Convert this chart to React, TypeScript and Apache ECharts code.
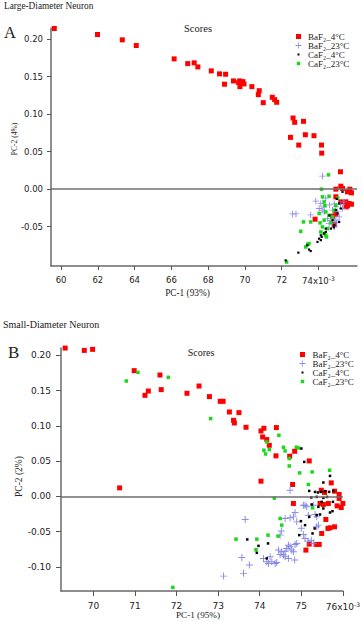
import React, { useEffect, useRef } from 'react';
import * as echarts from 'echarts';

// Values of PC-1 are in units of 10^-3 (as labelled on the axes)
const SERIES_NAMES = ['BaF₂_4°C', 'BaF₂_23°C', 'CaF₂_4°C', 'CaF₂_23°C'];
const COLORS = ['#ff0000', '#7a7ae0', '#000000', '#1ad81a'];

const A_X_TICKS = [60, 62, 64, 66, 68, 70, 72, 74];
const A_Y_TICKS = [-0.05, 0, 0.05, 0.1, 0.15, 0.2];
const B_X_TICKS = [70, 71, 72, 73, 74, 75, 76];
const B_Y_TICKS = [-0.1, -0.05, 0, 0.05, 0.1, 0.15, 0.2];

// Panel A: Large-Diameter Neuron
const A_BaF2_4 = [
  [59.63, 0.2143], [61.98, 0.2063], [63.33, 0.1992], [64.09, 0.1916], [66.15, 0.1738], [66.89, 0.1675],
  [67.24, 0.1685], [67.44, 0.1631], [68.17, 0.1578], [68.62, 0.1538], [68.95, 0.1533], [68.89, 0.14],
  [69.38, 0.1444], [69.71, 0.1444], [69.66, 0.1421], [69.8, 0.1421], [69.73, 0.1368], [69.95, 0.1404],
  [69.89, 0.1435], [70.38, 0.1368], [70.78, 0.1314], [70.73, 0.1261], [71.0, 0.1154], [71.49, 0.1226],
  [71.62, 0.1194], [71.73, 0.1159], [72.62, 0.0949], [72.71, 0.0892], [73.19, 0.0905], [72.48, 0.0691],
  [73.29, 0.0726], [73.76, 0.0713], [72.93, 0.0588], [74.17, 0.0588], [74.18, 0.0481], [75.2, 0.0232],
  [75.22, 0.004], [74.95, 0.0], [75.31, 0.001], [75.71, 0.0], [75.58, -0.0036], [75.8, -0.0049],
  [74.95, -0.0102], [75.5, -0.0169], [75.67, -0.0192], [75.8, -0.0201], [75.58, -0.0223], [75.22, -0.0169],
  [75.5, -0.0236], [74.95, -0.0334], [74.77, -0.0361], [73.82, -0.0401], [74.86, -0.047],
];
const A_BaF2_23 = [
  [74.22, 0.0174], [73.86, -0.016], [74.13, -0.019], [74.31, -0.0236], [74.6, -0.021], [74.86, -0.0196],
  [74.95, -0.0236], [72.59, -0.033], [72.78, -0.033], [73.58, -0.0343], [74.31, -0.0303], [74.68, -0.0414],
  [74.86, -0.0437], [75.13, -0.037], [75.04, -0.0303], [75.31, -0.0258], [75.4, -0.017], [74.77, -0.028],
  [74.5, -0.039], [74.04, -0.0258], [74.58, -0.046], [74.86, -0.0504], [74.4, -0.012], [75.0, -0.045],
  [74.95, -0.041], [74.2, -0.028], [75.2, -0.02],
];
const A_CaF2_4 = [
  [75.31, -0.0036], [75.13, -0.019], [75.22, -0.0258], [75.04, -0.0325], [75.13, -0.0437], [74.86, -0.048],
  [74.68, -0.0526], [74.4, -0.057], [74.31, -0.0592], [74.13, -0.0615], [74.04, -0.066], [74.13, -0.068],
  [73.95, -0.0704], [74.18, -0.0637], [73.4, -0.0749], [73.49, -0.0806], [73.58, -0.0825], [72.91, -0.0847],
  [72.22, -0.095], [74.77, -0.0414], [74.95, -0.028], [74.84, -0.051], [74.4, -0.0526], [75.0, -0.013],
  [74.6, -0.035],
];
const A_CaF2_23 = [
  [74.55, 0.0191], [74.17, 0.0], [74.58, -0.0094], [74.22, -0.0102], [74.31, -0.017], [74.04, -0.0325],
  [74.4, -0.0303], [74.86, -0.028], [74.58, -0.0348], [74.77, -0.037], [73.19, -0.0437], [74.09, -0.045],
  [74.31, -0.0414], [74.68, -0.045], [74.22, -0.0504], [74.5, -0.0526], [73.04, -0.0562], [74.13, -0.057],
  [74.31, -0.0592], [73.49, -0.0726], [73.31, -0.0771], [73.42, -0.0735], [72.27, -0.0972], [74.95, -0.0214],
  [74.4, -0.0615], [74.44, -0.0637], [73.58, -0.0437], [75.05, -0.012], [74.35, -0.022],
];

// Panel B: Small-Diameter Neuron
const B_BaF2_4 = [
  [69.32, 0.2104], [69.78, 0.2071], [69.98, 0.2086], [70.98, 0.1784], [71.6, 0.1722], [71.24, 0.1434],
  [71.32, 0.1495], [71.63, 0.1515], [72.25, 0.1463], [72.54, 0.1566], [72.79, 0.1416], [73.05, 0.1349],
  [73.12, 0.1349], [73.27, 0.1198], [73.5, 0.1189], [73.37, 0.108], [73.39, 0.1042], [73.67, 0.0981],
  [74.03, 0.0929], [74.1, 0.0967], [74.4, 0.0977], [74.07, 0.0844], [74.17, 0.0807], [74.23, 0.0726],
  [74.39, 0.0576], [74.72, 0.0571], [74.84, 0.0641], [75.19, 0.0504], [70.63, 0.0122], [74.03, 0.0217],
  [74.79, 0.017], [75.72, 0.0193], [75.48, 0.0089], [75.56, 0.0057], [75.8, 0.0075], [75.91, 0.0028],
  [75.91, -0.0028], [76.0, -0.0099], [75.96, -0.0156], [75.86, -0.0133], [75.65, -0.0099], [75.53, -0.0113],
  [75.45, -0.0099], [74.81, -0.0099], [75.59, -0.0326], [75.8, -0.043], [75.64, -0.0453], [75.69, -0.0444],
  [75.49, -0.0524], [75.37, -0.068], [75.43, -0.068], [75.19, -0.0675], [75.11, -0.076],
];
const B_BaF2_23 = [
  [74.73, 0.0089], [75.09, -0.0123], [75.13, -0.0147], [75.05, -0.0123], [75.29, -0.0123], [74.85, -0.0227],
  [74.81, -0.0289], [74.73, -0.0303], [74.61, -0.0312], [74.89, -0.036], [75.17, -0.0265], [75.33, -0.0255],
  [75.37, -0.0289], [75.41, -0.0406], [75.37, -0.043], [73.65, -0.0326], [74.52, -0.0491], [74.49, -0.0548],
  [75.05, -0.0538], [75.09, -0.0595], [75.16, -0.0633], [75.24, -0.0619], [75.29, -0.0666], [74.69, -0.069],
  [74.73, -0.0714], [74.85, -0.068], [74.89, -0.0666], [74.77, -0.076], [74.81, -0.0785], [74.65, -0.0736],
  [74.61, -0.0775], [74.53, -0.0785], [74.57, -0.0831], [74.45, -0.076], [74.49, -0.0821], [74.61, -0.0855],
  [74.69, -0.0878], [74.84, -0.0902], [74.09, -0.0878], [74.17, -0.0926], [74.29, -0.0926], [74.37, -0.0949],
  [74.41, -0.0935], [74.21, -0.0949], [73.57, -0.0864], [73.75, -0.0973], [73.61, -0.109], [73.13, -0.1129],
  [74.25, -0.0855], [75.0, -0.045],
];
const B_CaF2_4 = [
  [75.0, 0.068], [75.07, 0.049], [75.69, 0.0292], [75.53, 0.0198], [75.19, 0.0079], [75.33, 0.0065],
  [75.4, 0.0057], [75.48, 0.0065], [75.57, 0.0075], [75.67, 0.0065], [75.77, 0.0079], [75.24, -0.0014],
  [75.37, -0.0006], [75.53, -0.002], [75.62, -0.0006], [75.25, -0.0113], [75.49, -0.0076], [75.41, -0.0147],
  [75.53, -0.017], [75.76, -0.0076], [75.69, -0.0227], [75.75, -0.0208], [75.37, -0.0265], [75.45, -0.0255],
  [75.19, -0.0289], [74.99, -0.035], [75.09, -0.0406], [75.32, -0.0453], [75.27, -0.0524], [74.95, -0.0548],
  [73.7, -0.0609], [73.97, -0.07], [74.2, -0.0666], [73.93, -0.0799], [74.17, -0.0878],
];
const B_CaF2_23 = [
  [70.79, 0.1637], [71.07, 0.176], [71.8, 0.1689], [72.82, 0.1104], [74.46, 0.0868], [74.17, 0.0773],
  [74.23, 0.0665], [74.1, 0.0656], [74.14, 0.0603], [74.57, 0.0698], [74.61, 0.0646], [74.71, 0.0538],
  [74.88, 0.0698], [74.93, 0.0688], [74.71, 0.0433], [74.96, 0.0334], [75.26, 0.0348], [75.68, 0.0372],
  [75.17, 0.017], [74.35, -0.0024], [75.27, -0.0161], [74.49, -0.0312], [74.53, -0.0406], [74.2, -0.0548],
  [74.44, -0.0562], [73.93, -0.0605], [73.43, -0.0605], [73.91, -0.0756], [71.91, -0.1289],
];

const SERIF = "'Liberation Serif', 'DejaVu Serif', serif";
const SANS = "'DejaVu Sans', sans-serif";
const TXT = '#222';

const PLUS = 'path://M4.3,0H5.7V4.3H10V5.7H5.7V10H4.3V5.7H0V4.3H4.3Z';
const LEGEND_ICONS = [
  'path://M0,0M14,14M2,2H12V12H2Z',
  'path://M0,0M14,14M6.2,1H7.8V6.2H13V7.8H7.8V13H6.2V7.8H1V6.2H6.2Z',
  'path://M0,0M14,14M5,5H9V9H5Z',
  'path://M0,0M14,14M3.5,3.5H10.5V10.5H3.5Z',
];

function scatter(name: string, data: number[][], idx: number, gridIdx: number, size: number) {
  return {
    type: 'scatter',
    name,
    data,
    xAxisIndex: gridIdx,
    yAxisIndex: gridIdx,
    symbol: idx === 1 ? PLUS : 'rect',
    symbolSize: size,
    clip: false,
    z: 3,
    itemStyle: { color: COLORS[idx], opacity: idx === 1 ? 0.85 : 1 },
    emphasis: { disabled: true },
  };
}

function zeroLine(gridIdx: number) {
  return {
    type: 'scatter',
    name: 'zero' + gridIdx,
    data: [],
    xAxisIndex: gridIdx,
    yAxisIndex: gridIdx,
    z: 1,
    markLine: {
      silent: true,
      symbol: ['none', 'none'],
      label: { show: false },
      lineStyle: { color: '#6e6e6e', width: 1.5, type: 'solid' },
      data: [{ yAxis: 0 }],
    },
  };
}

function xAxis(gridIdx: number, min: number, max: number, ticks: number[], last: number, fs: number, margin: number, tlen: number) {
  return {
    type: 'value',
    gridIndex: gridIdx,
    min,
    max,
    axisLine: { show: true, onZero: false, lineStyle: { color: '#6a6a6a', width: 1.5 } },
    axisTick: { show: true, customValues: ticks, length: tlen, lineStyle: { color: '#555', width: 1 } },
    splitLine: { show: false },
    axisLabel: {
      customValues: ticks,
      margin,
      fontFamily: SANS,
      fontSize: fs,
      color: TXT,
      formatter: (v: number) => (v === last ? `{n|${v}x10}{s|-3}` : String(v)),
      rich: {
        n: { fontFamily: SANS, fontSize: fs, color: TXT, lineHeight: 12 },
        s: { fontFamily: SANS, fontSize: 6, color: TXT, lineHeight: 6, verticalAlign: 'top' },
      },
    },
  };
}

function yAxis(gridIdx: number, min: number, max: number, ticks: number[], fs: number, margin: number, tlen: number) {
  return {
    type: 'value',
    gridIndex: gridIdx,
    min,
    max,
    axisLine: { show: true, onZero: false, lineStyle: { color: '#6a6a6a', width: 1.5 } },
    axisTick: { show: true, customValues: ticks, length: tlen, lineStyle: { color: '#555', width: 1 } },
    splitLine: { show: false },
    axisLabel: {
      customValues: ticks,
      margin,
      fontFamily: SANS,
      fontSize: fs,
      color: TXT,
      formatter: (v: number) => v.toFixed(2),
    },
  };
}

function legend(left: number, top: number, itemWidth: number, lineHeight: number) {
  return {
    orient: 'vertical',
    left,
    top,
    padding: 0,
    itemWidth,
    itemHeight: 7,
    itemGap: 0,
    selectedMode: false,
    symbolKeepAspect: true,
    textStyle: { fontFamily: SERIF, fontSize: 9, color: TXT, lineHeight },
    data: SERIES_NAMES.map((n, i) => ({ name: n, icon: LEGEND_ICONS[i] })),
  };
}

function label(text: string, x: number, y: number, size: number, align: string, rotation = 0) {
  return {
    type: 'text',
    x,
    y,
    rotation,
    silent: true,
    style: {
      text,
      fill: TXT,
      font: `${size}px ${SERIF}`,
      textAlign: align,
      textVerticalAlign: 'middle',
    },
  };
}

export default function App() {
  const ref = useRef<HTMLDivElement>(null);

  useEffect(() => {
    if (!ref.current) return;
    const chart = echarts.init(ref.current, undefined, { renderer: 'svg' });
    const option = {
      animation: false,
      backgroundColor: '#ffffff',
      grid: [
        { left: 51, top: 28, width: 306, height: 238 },
        { left: 61, top: 348, width: 282, height: 243 },
      ],
      xAxis: [
        xAxis(0, 59.45, 76.1, A_X_TICKS, 74, 8.5, 9, 4),
        xAxis(1, 69.22, 76.0, B_X_TICKS, 76, 9, 10, 5),
      ],
      yAxis: [
        yAxis(0, -0.1025, 0.215, A_Y_TICKS, 8.5, 8, 4),
        yAxis(1, -0.134, 0.2105, B_Y_TICKS, 9, 10, 5),
      ],
      legend: [legend(295, 32, 9, 7.6), legend(299, 350, 10, 9)],
      graphic: [
        label('Large-Diameter Neuron', 4, 5.5, 9.3, 'left'),
        label('A', 4, 32.5, 16.5, 'left'),
        label('Scores', 198, 28.5, 10.5, 'center'),
        label('PC-1 (93%)', 187.5, 292.5, 9.3, 'center'),
        label('PC-2 (4%)', 14.5, 139, 7.5, 'center', Math.PI / 2),
        label('Small-Diameter Neuron', 3, 324.5, 10, 'left'),
        label('B', 8, 352.5, 17, 'left'),
        label('Scores', 201, 352, 10, 'center'),
        label('PC-1 (95%)', 198, 615, 9.2, 'center'),
        label('PC-2 (2%)', 19, 476.5, 9.5, 'center', Math.PI / 2),
      ],
      series: [
        zeroLine(0),
        zeroLine(1),
        scatter(SERIES_NAMES[0], A_BaF2_4, 0, 0, 5),
        scatter(SERIES_NAMES[1], A_BaF2_23, 1, 0, 6.5),
        scatter(SERIES_NAMES[3], A_CaF2_23, 3, 0, 3.5),
        scatter(SERIES_NAMES[2], A_CaF2_4, 2, 0, 2.2),
        scatter(SERIES_NAMES[0], B_BaF2_4, 0, 1, 5),
        scatter(SERIES_NAMES[1], B_BaF2_23, 1, 1, 7),
        scatter(SERIES_NAMES[3], B_CaF2_23, 3, 1, 3.5),
        scatter(SERIES_NAMES[2], B_CaF2_4, 2, 1, 2.5),
      ],
    };
    chart.setOption(option as any);
    return () => chart.dispose();
  }, []);

  return (
    <div
      ref={ref}
      style={{ position: 'absolute', left: 0, top: 0, width: 363, height: 622, background: '#fff' }}
    />
  );
}
